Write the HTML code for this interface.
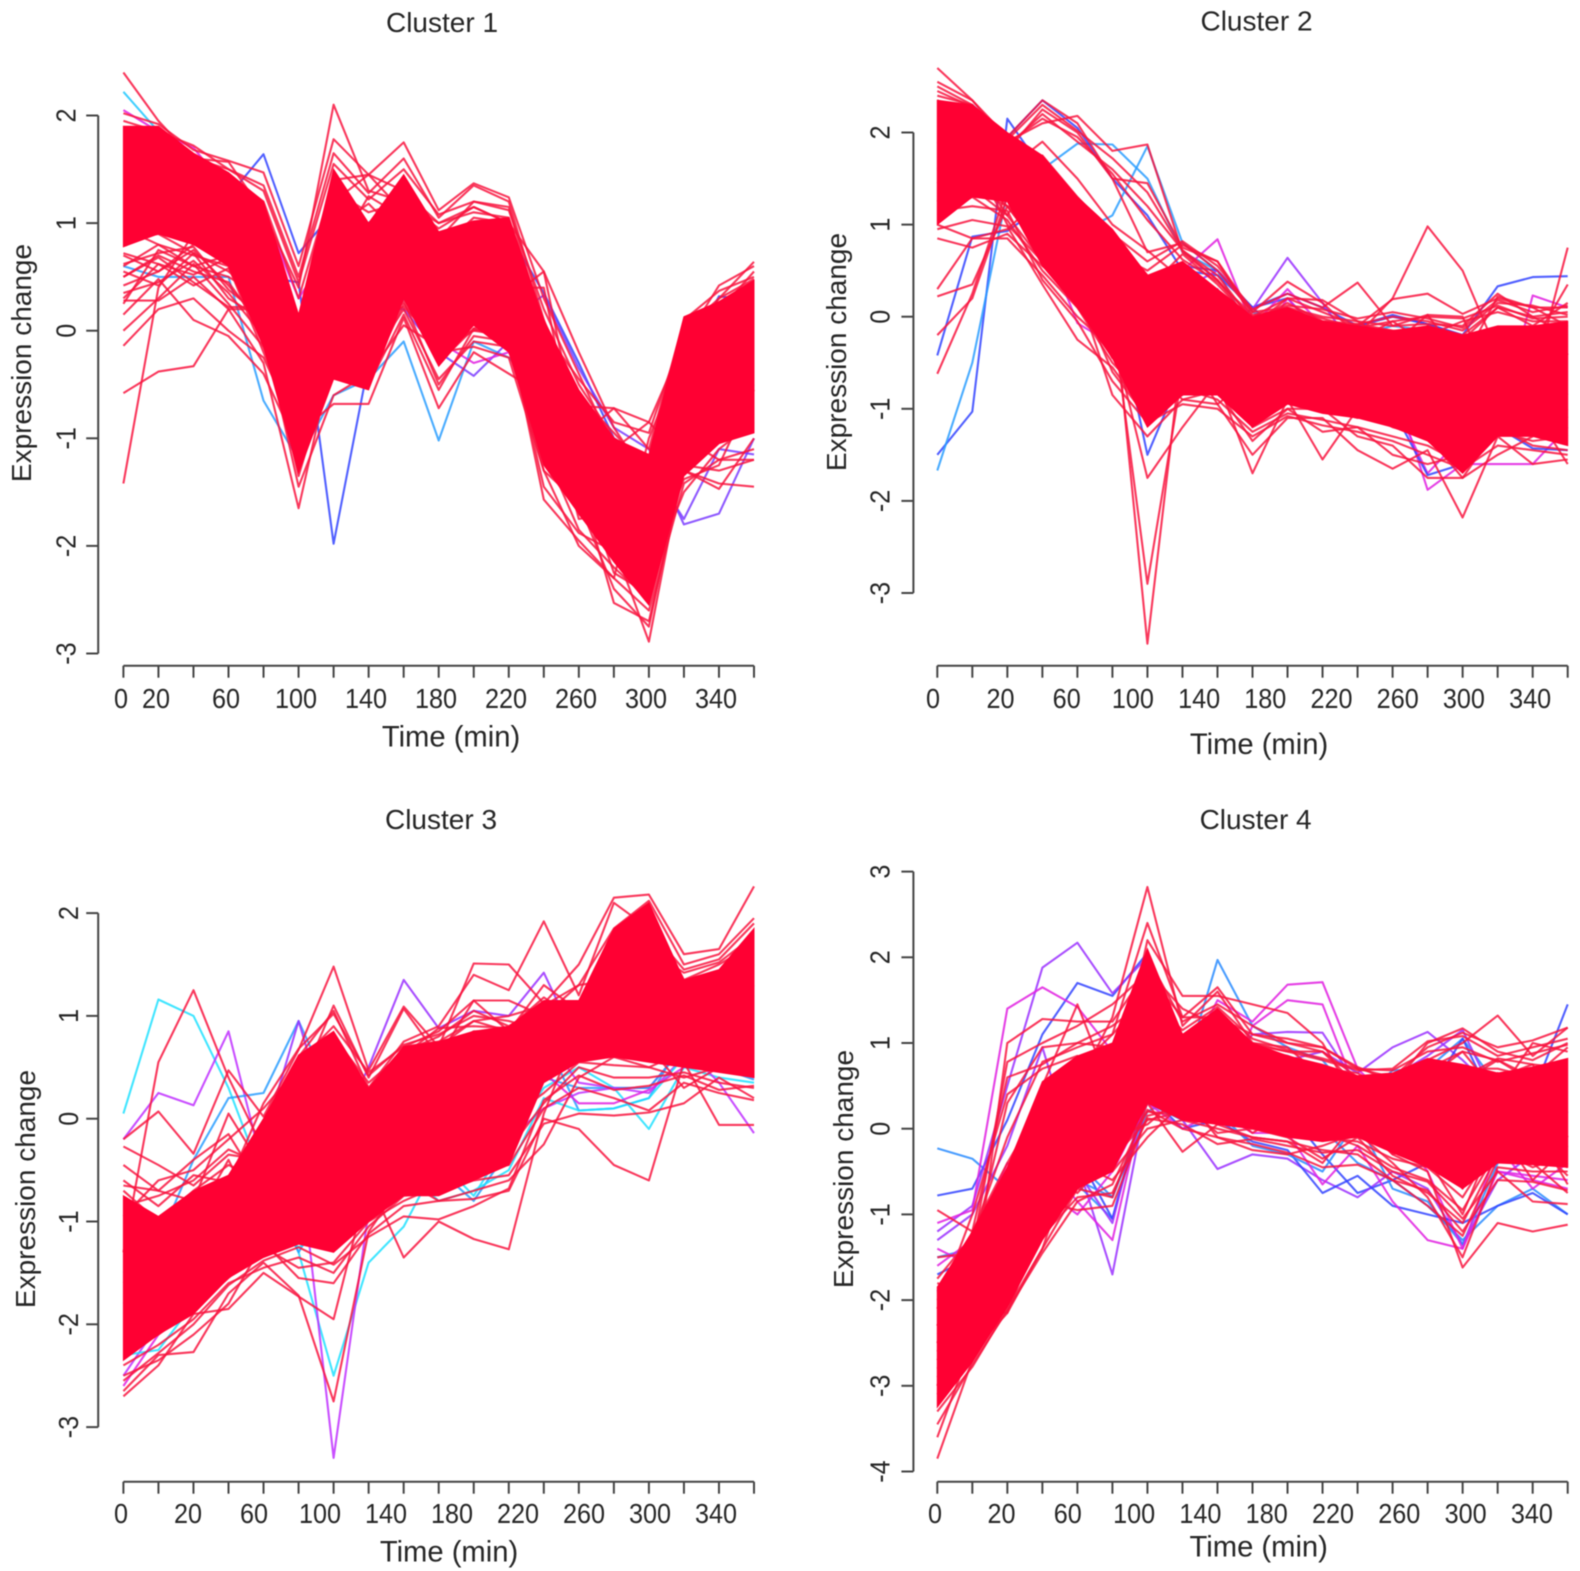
<!DOCTYPE html>
<html>
<head>
<meta charset="utf-8">
<title>Expression change clusters</title>
<style>
html,body{margin:0;padding:0;background:#fff;width:1580px;height:1571px;overflow:hidden}
svg{display:block;filter:blur(.45px)}
text{font-family:"Liberation Sans",Arial,sans-serif;fill:#262626}
</style>
</head>
<body>
<svg id="chart" xmlns="http://www.w3.org/2000/svg" width="1580" height="1571" viewBox="0 0 1580 1571"></svg>
<script>
const times=[0,20,40,60,80,100,120,140,160,180,200,220,240,260,280,300,320,340,360];
const xTickLabels=[0,20,60,100,140,180,220,260,300,340];

const c1YTicks=[2,1,0,-1,-2,-3];
const c1BandUpper=[1.9,1.9,1.65,1.47,1.2,0.15,1.5,1.0,1.45,0.92,1.02,1.05,0.1,-0.55,-1.0,-1.15,0.13,0.27,0.47];
const c1BandLower=[0.78,0.9,0.8,0.6,-0.15,-1.32,-0.45,-0.55,0.3,-0.33,0.05,-0.2,-1.25,-1.7,-2.15,-2.55,-1.35,-1.05,-0.95];
const c1AccentColors=['#20c8ff','#3344ff','#3344ff','#2a9dff','#7a3cff','#7a3cff','#e020e0'];
const c1AccentLines=[
[2.22,1.85,1.5,1.3,0.85,-0.1,0.6,0.4,0.5,0.3,0.2,0.2,-0.1,-0.8,-1.2,-1.4,-0.5,-0.2,0.0],
[1.2,1.25,1.2,1.25,1.64,0.72,1.1,1.0,1.3,0.8,0.9,0.9,0.35,-0.3,-1.0,-1.2,-0.3,0.32,0.28],
[1.0,0.9,0.9,0.8,0.5,0.45,-1.98,-0.3,0.3,0.0,0.2,0.1,-0.6,-1.2,-1.6,-1.9,-1.0,-0.8,-0.5],
[0.6,0.5,0.5,0.5,-0.65,-1.2,-0.6,-0.45,-0.1,-1.02,-0.1,-0.25,-0.6,-1.3,-1.8,-2.0,-1.2,-0.9,-0.7],
[1.1,1.1,1.0,0.9,0.6,-0.2,0.2,0.3,0.5,0.1,0.2,0.1,0.33,-0.35,-0.9,-1.1,-1.8,-1.7,-1.0],
[1.5,1.6,1.4,1.2,0.8,-0.3,0.1,0.2,0.2,-0.2,-0.42,-0.1,-0.1,-0.7,-1.0,-1.25,-1.75,-1.1,-1.15],
[2.05,1.85,1.7,1.3,1.1,0.3,0.8,0.6,0.6,-0.1,-0.3,-0.2,-0.7,-1.2,-1.2,-1.4,-0.8,-0.4,-0.2]
];
const c1RedLines=[
[2.4,1.95,1.6,1.57,1.1,0.4,2.1,1.3,1.2,1.0,1.15,1.0,0.55,-0.2,-0.9,-1.4,-0.2,0.3,0.64],
[2.02,1.92,1.68,1.58,1.47,0.6,1.78,1.45,1.75,1.12,1.37,1.24,0.3,-0.4,-1.1,-0.85,-0.1,0.42,0.6],
[1.95,1.85,1.72,1.5,1.35,0.5,1.65,1.28,1.6,1.05,1.35,1.2,0.1,-0.7,-0.72,-1.1,0.1,0.37,0.5],
[1.8,1.85,1.6,1.5,1.3,0.45,1.55,1.22,1.5,1.08,1.2,1.12,0.2,-0.5,-1.0,-1.2,0.0,0.3,0.48],
[1.7,1.75,1.55,1.45,1.2,0.3,1.4,1.45,1.3,1.0,1.1,1.05,0.05,-0.6,-0.95,-1.3,0.05,0.25,0.4],
[-1.42,0.4,0.9,1.0,0.7,-0.3,0.9,0.7,0.9,0.5,0.7,0.7,-0.3,-1.0,-1.5,-1.9,-0.8,-0.3,-0.1],
[-0.58,-0.38,-0.33,0.2,-0.3,-1.65,-0.2,0.1,0.5,0.1,0.4,0.2,-0.9,-1.57,-1.9,-2.4,-1.0,-0.5,-0.3],
[-0.14,0.2,0.3,0.0,-0.25,-0.95,-0.68,-0.68,0.12,-0.72,-0.2,-0.4,-0.6,-1.3,-2.0,-2.89,-1.2,-0.8,-0.6],
[0.0,0.3,0.62,0.25,-0.15,-0.9,-0.3,-0.5,0.15,-0.55,0.02,-0.1,-1.0,-1.4,-2.53,-2.7,-1.3,-1.42,-1.45],
[0.15,0.48,0.1,-0.05,-0.4,-1.1,-0.1,-0.3,0.2,-0.45,-0.1,-0.15,-1.3,-2.0,-2.3,-2.6,-1.42,-1.2,-1.1],
[0.28,0.28,0.5,0.2,0.2,-0.6,0.0,0.2,0.35,-0.3,0.02,0.1,-1.1,-1.85,-2.2,-2.5,-1.3,-1.47,-1.0],
[0.5,0.68,0.45,0.22,0.22,-0.7,-0.05,0.3,0.4,-0.2,-0.15,-0.25,-1.3,-1.6,-2.4,-2.75,-1.2,-1.0,-0.9],
[0.42,0.55,0.75,0.42,0.05,-0.9,0.2,0.4,0.6,0.0,0.2,0.3,0.55,-1.0,-1.5,-2.0,-0.5,-0.3,-0.2],
[0.6,0.8,0.7,0.6,-0.2,-1.0,0.3,0.5,0.5,0.1,0.3,0.4,0.4,-1.2,-1.3,-1.9,-0.4,-0.1,0.1],
[0.7,0.55,0.8,0.75,0.35,-0.6,1.2,1.45,1.1,0.85,1.2,1.15,0.0,-1.5,-1.6,-2.1,-1.0,-1.2,-1.2],
[0.85,0.9,0.72,0.55,0.3,-0.4,1.3,1.1,1.2,0.95,1.15,1.0,-0.2,-1.7,-2.1,-2.3,-1.5,-1.1,-0.85],
[0.5,0.7,0.55,0.45,0.0,-1.45,-0.6,-0.4,0.05,-0.15,0.1,0.0,-1.57,-1.95,-2.3,-1.0,-0.2,0.2,0.35],
[0.35,0.45,0.65,0.35,-0.05,-1.2,-0.4,-0.2,0.28,-0.5,-0.05,-0.1,-0.4,-1.0,-0.72,-0.85,-1.2,-0.6,-0.4],
[0.95,0.8,0.6,0.7,0.4,-0.2,0.7,1.25,1.05,0.75,1.05,1.0,-0.3,-1.1,-1.8,-2.0,-0.2,0.1,0.3],
[0.25,0.75,0.6,0.5,0.3,-0.5,0.6,0.9,1.0,0.65,0.95,0.9,0.1,-0.9,-1.3,-1.7,-0.1,0.05,0.2],
[0.62,0.72,0.78,0.38,0.12,-0.75,0.1,0.15,0.22,-0.1,0.0,0.05,-0.8,-1.3,-2.25,-2.45,-1.25,-1.3,-1.2],
[0.3,0.62,0.42,0.58,-0.05,-0.8,0.55,0.7,0.7,0.35,0.5,0.5,-0.5,-1.75,-1.7,-2.2,-1.38,-1.25,-0.55],
[0.55,0.42,0.72,0.3,0.1,-1.35,-0.25,-0.45,0.25,-0.2,0.0,-0.05,-1.45,-1.88,-2.05,-2.35,-0.05,-0.15,-0.35],
[0.72,0.62,0.52,0.68,0.25,-0.55,0.95,1.18,0.85,0.8,0.92,0.98,0.0,-0.45,-0.85,-0.95,0.0,0.18,0.55]
];

const c2YTicks=[2,1,0,-1,-2,-3];
const c2BandUpper=[2.35,2.3,2.0,1.75,1.3,0.95,0.45,0.6,0.3,0.0,0.1,-0.05,-0.1,-0.15,-0.1,-0.2,-0.1,-0.1,-0.05];
const c2BandLower=[1.0,1.3,1.25,0.55,0.1,-0.45,-1.2,-0.85,-0.85,-1.2,-0.95,-1.05,-1.1,-1.2,-1.35,-1.7,-1.3,-1.3,-1.4];
const c2AccentColors=['#3344ff','#2a9dff','#3344ff','#3344ff','#2a9dff','#3344ff','#3344ff','#9a30ff','#e020e0','#e020e0','#3344ff'];
const c2AccentLines=[
[-1.5,-1.03,2.15,1.6,1.2,0.8,0.3,-0.2,-0.5,-0.7,-0.4,-0.6,-0.7,-0.8,-1.0,-1.2,-0.8,-0.9,-1.0],
[-1.67,-0.5,1.35,1.6,1.88,1.87,1.5,0.7,0.5,-0.2,-0.3,-0.5,-0.6,-0.7,-1.0,-1.1,-0.9,-0.8,-0.7],
[-0.42,0.87,0.93,1.2,1.0,0.7,0.3,-0.3,-0.55,-0.9,-0.6,-0.7,-0.9,-1.0,-1.2,-1.4,-1.0,-1.1,-1.2],
[2.3,2.3,1.95,2.35,2.05,1.5,1.1,0.5,0.45,0.1,-0.25,-0.45,-0.6,-0.5,-0.7,-0.9,-0.8,-0.7,-0.6],
[1.7,1.6,1.5,1.1,0.9,1.1,1.85,0.8,0.5,0.05,-0.1,-0.3,-0.2,-0.1,-0.15,-0.2,-0.5,-0.6,-0.6],
[1.5,1.5,1.4,1.3,1.0,0.5,0.1,0.55,0.5,0.1,0.25,0.1,-0.1,0.0,-0.08,-0.2,-0.5,-0.6,-0.7],
[1.8,1.8,1.6,1.3,1.0,0.6,0.0,-0.6,-0.3,0.1,0.2,-0.2,-0.1,0.02,-0.08,-0.2,0.33,0.43,0.44],
[1.6,1.9,1.6,1.2,0.9,0.5,0.2,0.3,0.5,0.08,0.64,0.15,-0.4,-0.6,-0.8,-1.2,-1.0,-0.8,-0.4],
[1.9,1.7,1.5,0.9,-0.07,-0.3,-0.47,0.5,0.84,-0.1,0.3,-0.1,-0.4,-0.7,-1.88,-1.6,-1.6,-1.6,-1.2],
[1.5,1.6,1.4,1.0,0.7,0.3,-0.4,0.2,0.3,-0.4,0.2,-0.2,-0.5,-0.9,-1.7,-1.3,-1.2,0.23,0.1],
[1.9,1.7,1.6,1.2,0.8,0.3,-1.5,-0.6,-0.4,-0.8,-0.6,-0.7,-0.8,-1.0,-1.72,-1.6,-1.2,-1.43,-1.45]
];
const c2RedLines=[
[2.7,2.35,1.9,1.6,1.2,0.9,0.6,0.82,0.55,0.08,0.25,0.1,0.37,-0.1,0.02,0.0,-0.9,-0.7,0.75],
[2.55,2.35,1.95,2.35,2.1,1.5,0.7,0.8,0.5,0.05,0.38,0.15,-0.2,0.2,0.98,0.5,-0.4,-0.3,0.35],
[2.5,2.3,1.9,2.1,2.18,1.8,1.87,0.7,0.4,-0.1,0.2,0.05,-0.1,0.19,0.25,0.03,0.2,0.1,0.1],
[2.4,2.3,1.8,2.25,2.0,1.5,1.45,0.75,0.6,0.05,0.1,0.0,-0.05,-0.3,0.02,-0.5,0.22,0.1,-0.1],
[2.35,2.2,1.85,2.2,1.9,1.6,1.2,0.72,0.45,-0.05,0.05,-0.05,-0.1,-0.5,-0.1,-0.2,0.1,-0.1,0.15],
[-0.62,0.25,1.4,1.2,0.9,0.4,0.0,-0.5,-0.4,-0.7,-0.5,-0.6,-0.8,-0.9,-0.6,-0.9,-0.5,-0.7,-0.6],
[0.3,0.85,0.95,1.3,0.8,0.3,-0.2,-0.4,-0.5,-0.6,-0.7,-0.8,-0.6,-0.8,-1.0,-1.2,-0.9,-0.6,-0.5],
[0.22,0.35,1.2,1.1,0.6,0.1,-0.3,-0.7,-0.6,-0.8,-0.6,-0.9,-1.0,-1.1,-0.9,-1.1,-0.6,-0.8,-0.9],
[-0.2,0.2,1.3,0.9,0.4,-0.1,-0.5,-0.9,-0.8,-1.1,-0.9,-0.7,-0.8,-0.9,-1.3,-1.4,-1.0,-0.9,-1.1],
[0.85,0.75,0.9,0.55,0.25,-0.3,-0.85,-0.2,-0.3,-0.9,-0.7,-1.0,-1.1,-1.0,-0.7,-0.6,-0.8,-1.2,-1.3],
[1.0,0.85,0.85,0.45,0.0,-0.35,-0.75,0.0,-0.6,-1.1,-0.8,-0.6,-0.7,-0.8,-1.2,-1.0,-0.7,-1.0,-1.6],
[1.9,1.8,1.5,1.2,0.9,0.3,-3.55,-0.3,-0.4,-0.9,-0.7,-0.9,-0.8,-0.9,-1.1,-1.3,-0.9,-0.9,-1.0],
[1.7,1.7,1.4,1.0,0.6,0.0,-2.9,-0.6,-0.6,-1.0,-0.8,-0.8,-0.9,-1.0,-1.2,-1.4,-1.0,-0.8,-1.1],
[1.6,1.6,1.3,0.9,0.5,-0.2,-1.75,-1.2,-0.7,-1.7,-0.9,-1.55,-1.0,-1.2,-1.3,-1.75,-1.2,-1.1,-1.3],
[1.8,1.7,1.4,0.8,0.3,-0.85,-1.3,-0.9,-0.95,-1.5,-1.1,-1.1,-1.45,-1.65,-1.45,-2.18,-1.3,-1.6,-1.55],
[1.5,1.55,1.2,0.7,0.3,-0.6,-1.1,-0.5,-0.8,-1.35,-1.0,-1.0,-1.3,-1.4,-1.75,-1.75,-1.5,-1.3,-1.0],
[1.6,1.4,1.1,0.6,0.1,-0.5,-0.9,0.3,-0.5,-1.2,-1.0,-1.25,-1.2,-1.5,-1.6,-1.5,-1.2,-1.4,-1.45],
[2.1,2.0,1.7,1.4,1.05,0.7,0.5,0.78,0.6,0.0,0.2,0.18,-0.05,-0.1,-0.08,-0.1,0.25,0.0,0.05],
[2.2,2.1,1.75,1.5,1.0,0.6,0.3,0.68,0.35,-0.05,0.15,-0.05,-0.08,0.0,-0.05,-0.15,0.15,0.12,0.02],
[1.9,2.05,1.6,1.9,1.5,1.0,0.72,0.4,0.2,-0.1,0.02,-0.15,-0.08,-0.15,-0.2,-0.05,0.05,-0.05,-0.05],
[1.25,1.65,1.1,1.75,1.3,0.9,0.45,0.35,0.25,-0.08,0.0,-0.1,-0.25,-0.05,-0.3,-0.25,0.1,0.0,-0.2],
[2.2,2.15,1.7,0.95,0.5,-0.2,-0.6,-0.1,0.1,-0.5,-0.2,-0.5,-0.6,-0.5,-0.5,-0.4,-0.2,-0.3,-0.1],
[1.1,1.3,1.05,0.5,0.1,-0.4,-1.0,-0.85,-0.5,-0.3,-0.55,-0.4,-0.55,-0.8,-0.45,-0.8,-1.05,-0.5,-0.7],
[1.35,1.4,1.2,0.7,0.4,-0.25,-0.7,-0.35,-0.95,-0.65,-0.3,-0.7,-0.4,-0.55,-1.0,-0.55,-0.75,-1.0,-0.4],
[1.45,1.75,1.0,0.6,0.25,-0.45,-0.4,-0.6,-0.3,-0.8,-0.5,-0.35,-0.8,-0.35,-0.75,-1.1,-0.35,-0.55,-0.85],
[2.45,2.28,1.92,2.3,2.02,1.72,1.35,0.72,0.4,-0.02,0.12,0.08,-0.02,0.05,-0.02,-0.12,0.18,0.05,0.12],
[2.3,2.18,1.88,2.15,1.95,1.55,1.05,0.62,0.38,0.02,0.08,-0.02,-0.12,-0.05,0.0,-0.02,0.12,-0.02,0.0],
[0.95,1.05,0.98,0.35,-0.25,-0.55,-1.08,-0.78,-0.9,-1.25,-1.05,-1.12,-1.2,-1.3,-1.4,-1.6,-1.25,-1.35,-1.3],
[1.15,1.2,1.15,0.4,-0.05,-0.7,-1.15,-0.95,-1.0,-1.3,-1.08,-1.18,-1.25,-1.35,-1.5,-1.65,-1.4,-1.45,-1.5]
];

const c3YTicks=[2,1,0,-1,-2,-3];
const c3BandUpper=[-0.75,-0.95,-0.7,-0.55,0.0,0.62,0.85,0.3,0.7,0.75,0.85,0.9,1.15,1.15,1.85,2.1,1.35,1.45,1.85];
const c3BandLower=[-2.35,-2.1,-1.9,-1.55,-1.35,-1.22,-1.3,-1.0,-0.75,-0.75,-0.6,-0.45,0.35,0.55,0.6,0.55,0.5,0.45,0.4];
const c3AccentColors=['#20e0ff','#c030ff','#2a9dff','#9a30ff','#2a9dff','#c030ff','#20e0ff','#e020e0'];
const c3AccentLines=[
[0.05,1.16,1.0,0.3,-0.6,-1.3,-2.5,-1.4,-1.05,-0.4,-0.75,-0.2,0.3,0.5,0.3,-0.1,0.5,0.4,0.35],
[-0.2,0.25,0.13,0.85,-0.5,-0.3,-3.3,-0.9,-0.2,0.2,0.3,0.5,0.8,0.35,0.3,0.3,0.7,0.35,-0.14],
[-1.5,-1.2,-0.4,0.2,0.25,0.95,0.2,-0.2,0.3,0.2,0.4,0.5,0.8,0.08,0.1,0.2,0.8,0.5,0.38],
[-1.8,-1.5,-1.2,-0.8,-0.2,0.95,-0.2,0.5,1.35,0.88,1.05,1.0,1.42,0.7,0.8,0.9,0.9,0.8,0.9],
[-1.9,-1.7,-1.5,-1.0,-0.5,-1.3,-0.7,-0.6,-0.2,-0.5,-0.8,-0.3,0.4,0.3,0.3,0.3,0.7,0.8,0.7],
[-2.5,-2.0,-1.6,-1.2,-0.7,-0.3,-0.8,-0.5,-0.3,-0.6,-0.58,-0.2,0.1,0.25,0.3,0.25,0.6,0.55,0.6],
[-2.3,-2.25,-1.8,-1.4,-1.0,-1.25,-1.1,-0.8,-0.5,-0.8,-0.7,-0.5,0.2,0.08,0.1,0.2,0.6,0.7,0.8],
[-2.6,-2.1,-1.7,-1.3,-0.9,-0.5,-1.0,-0.6,-0.4,-0.3,-0.4,-0.2,0.45,0.15,0.15,0.28,0.5,0.6,0.4]
];
const c3RedLines=[
[-1.3,0.55,1.25,0.4,-0.3,0.1,0.4,-0.2,0.3,0.4,0.5,0.6,0.9,1.0,1.4,1.6,1.2,1.2,1.5],
[-0.2,0.07,-0.34,0.47,0.02,0.67,1.48,0.47,1.09,0.7,1.51,1.5,1.12,1.5,2.15,2.18,1.6,1.65,2.26],
[-0.27,-0.45,-0.65,-0.35,-0.4,0.3,1.1,0.4,1.07,0.6,1.15,1.15,1.0,1.3,1.85,2.12,1.5,1.6,1.95],
[-0.45,-0.7,-0.8,0.05,-0.5,0.6,1.05,0.3,0.75,0.9,1.4,1.25,1.92,1.2,2.1,1.85,1.45,1.55,1.9],
[-0.65,-0.7,-0.4,-0.15,-0.7,0.55,0.9,0.45,0.7,0.85,1.15,0.85,1.3,1.05,1.7,2.0,1.35,1.5,1.7],
[-0.7,-1.0,-0.7,-0.45,-0.6,0.35,0.8,0.35,0.65,0.8,1.05,0.9,1.1,1.0,1.6,1.9,1.2,1.3,1.6],
[-0.85,-0.75,-0.6,-0.3,-0.45,0.4,0.75,0.2,0.6,0.7,0.95,0.85,1.05,1.1,1.45,1.7,1.3,1.4,1.6],
[-2.7,-2.4,-1.9,-1.85,-1.5,-1.73,-1.95,-0.6,-1.35,-1.0,-1.17,-1.27,0.05,0.9,0.8,0.8,0.6,0.6,0.6],
[-2.65,-2.3,-2.27,-1.7,-1.4,-1.72,-2.75,-1.1,-0.6,-0.8,-0.7,-0.6,-0.25,0.4,0.6,0.7,0.3,0.5,0.7],
[-2.5,-2.35,-2.1,-1.8,-1.2,-1.55,-1.6,-1.12,-0.85,-0.8,-0.78,-0.7,0.0,-0.1,-0.45,-0.6,0.55,-0.06,-0.06],
[-2.4,-2.2,-1.95,-1.6,-1.45,-1.35,-1.5,-1.05,-0.75,-0.72,-0.6,-0.55,-0.05,0.05,0.03,0.06,0.15,0.4,0.2],
[-2.3,-2.1,-1.85,-1.55,-1.25,-1.45,-1.4,-1.0,-0.8,-0.65,-0.5,-0.45,0.1,0.3,0.2,0.08,0.35,0.25,0.18],
[-1.0,-1.2,-1.0,-0.4,-1.1,-0.8,-1.2,-0.7,-0.7,-0.55,-0.45,-0.3,0.15,0.5,0.4,0.4,0.45,0.35,0.3],
[-1.1,-1.0,-0.8,-0.9,-0.9,-0.95,-1.0,-0.75,-0.5,-0.4,-0.2,0.0,0.25,0.55,0.52,0.5,0.4,0.5,0.45],
[-1.6,-1.3,-1.2,-0.9,-0.6,-0.8,-1.0,-0.6,0.2,0.65,0.85,0.85,1.0,0.9,0.6,0.5,0.65,0.75,0.6],
[-1.4,-1.2,-1.1,-1.0,-0.5,0.1,0.3,0.0,0.7,0.75,0.95,1.0,1.1,1.3,1.35,1.3,0.9,0.95,1.3],
[-0.6,-0.85,-0.55,-0.62,0.15,0.68,1.02,0.42,0.72,0.82,1.0,0.95,0.85,1.08,1.55,1.65,1.42,1.52,1.78],
[-2.55,-2.28,-2.0,-1.62,-1.38,-1.25,-1.42,-1.15,-0.95,-0.98,-0.85,-0.68,0.18,0.42,0.28,0.32,0.42,0.28,0.32],
[-0.95,-0.6,-0.5,-0.2,0.1,0.5,0.7,0.28,0.62,0.88,0.9,0.88,1.18,0.95,1.25,1.4,1.3,1.38,1.45]
];

const c4YTicks=[3,2,1,0,-1,-2,-3,-4];
const c4BandUpper=[-1.85,-1.2,-0.45,0.55,0.85,1.0,2.1,1.1,1.4,1.0,0.85,0.75,0.62,0.65,0.82,0.75,0.65,0.72,0.82];
const c4BandLower=[-3.25,-2.72,-2.08,-1.3,-0.7,-0.5,0.3,0.1,0.05,0.0,-0.1,-0.15,-0.1,-0.28,-0.45,-0.7,-0.4,-0.42,-0.45];
const c4AccentColors=['#2a8cff','#3344ff','#9a30ff','#2a8cff','#e020e0','#9a30ff','#3344ff','#2a8cff','#e020e0','#e020e0','#9a30ff','#3344ff'];
const c4AccentLines=[
[-0.23,-0.35,-0.7,-0.5,-0.4,-0.8,0.2,0.4,0.5,0.2,0.1,0.0,-0.4,-0.6,-0.9,-1.3,-0.9,-0.7,-1.0],
[-0.78,-0.7,0.1,1.1,1.7,1.55,2.05,1.0,0.4,0.3,0.2,-0.3,-0.75,-0.6,-0.4,-0.5,-0.2,0.4,1.45],
[-1.2,-0.9,0.5,1.88,2.17,1.58,2.0,0.9,0.7,0.6,0.8,0.9,0.65,0.95,1.13,0.8,0.4,0.2,0.3],
[-1.5,-1.4,-0.5,0.2,-0.65,-1.05,0.5,0.6,1.97,1.2,0.95,0.8,0.3,0.68,0.7,1.05,0.5,0.1,-0.1],
[-1.1,-0.95,1.4,1.65,1.42,0.9,1.6,0.7,1.5,1.25,1.68,1.71,0.7,0.3,0.2,0.1,-0.5,-0.6,-0.7],
[-1.3,-1.0,-0.2,0.95,-0.4,-1.7,0.4,0.1,-0.47,-0.3,-0.35,-0.6,-0.8,-0.5,-0.7,-1.35,-0.6,-0.3,-0.1],
[-1.7,-1.5,-1.2,-0.9,-0.3,-1.05,0.4,0.0,0.1,-0.15,-0.25,-0.75,-0.55,-0.9,-1.0,-1.1,-0.9,-0.75,-1.0],
[-2.0,-1.8,-1.0,-0.5,-0.6,-0.8,0.3,0.1,0.2,-0.2,-0.3,-0.5,0.1,-0.7,-0.85,-1.35,-0.4,-0.2,0.2],
[-1.4,-1.6,-1.0,-0.35,-0.85,-1.3,0.5,0.2,0.3,1.2,1.5,1.45,0.4,0.1,-0.5,-1.4,-0.5,-0.55,-0.6],
[-1.6,-1.3,-0.4,-0.7,-1.0,-0.5,0.3,0.0,0.2,-0.05,-0.05,-0.65,-0.2,-0.85,-1.3,-1.4,-0.2,-0.7,-0.4],
[-1.9,-1.3,-0.6,0.3,-0.5,-1.1,0.55,0.5,0.6,1.1,1.13,1.12,0.5,0.6,0.85,1.15,0.3,0.1,-0.1],
[-2.1,-1.8,-1.5,-0.3,-0.5,-0.2,0.7,0.3,0.45,0.9,0.85,0.7,0.4,0.3,0.4,1.05,0.2,0.0,0.2]
];
const c4RedLines=[
[-3.85,-2.7,-2.0,-0.2,0.5,1.3,2.82,1.2,1.6,1.0,0.9,0.9,0.5,0.6,0.7,0.9,0.4,1.0,0.9],
[-3.6,-2.5,-1.8,0.1,0.7,1.1,2.4,1.3,1.65,1.1,1.0,0.95,0.7,0.6,0.8,1.0,1.32,0.85,1.18],
[-3.3,-2.78,-2.1,-1.4,-0.2,0.3,2.2,1.55,1.55,1.45,1.35,1.0,0.3,0.5,1.0,1.17,0.9,0.8,1.0],
[-3.1,-2.6,-2.15,-1.1,-0.5,0.9,2.0,1.25,1.45,1.2,1.0,0.9,0.6,0.6,0.95,1.12,0.95,1.03,1.18],
[-2.9,-2.4,-1.0,0.5,1.45,0.4,1.8,1.3,1.3,1.1,1.05,0.95,0.72,0.55,0.6,0.9,0.8,0.6,0.95],
[-2.7,-2.0,1.0,1.28,1.25,1.25,1.85,1.4,1.2,0.95,0.85,0.7,0.65,0.4,0.5,0.7,0.7,0.6,0.8],
[-2.5,-1.4,0.78,1.0,1.2,1.45,1.82,1.0,1.1,1.0,0.95,0.6,0.4,0.3,0.55,0.6,0.82,0.75,0.7],
[-2.3,-1.2,0.6,0.75,1.0,1.2,1.5,1.1,1.0,0.85,0.8,0.5,0.5,0.5,0.7,0.55,0.8,0.55,0.65],
[-2.1,-1.0,0.4,0.7,0.85,0.7,1.3,0.9,0.9,0.75,0.7,0.55,0.6,0.45,0.75,0.6,0.55,0.7,0.6],
[-0.95,-1.2,-0.4,0.3,0.6,0.85,1.4,0.85,0.7,0.6,0.5,0.4,0.3,0.2,0.5,0.5,0.5,0.6,0.55],
[-1.9,-2.1,-2.15,-1.4,-0.7,-0.8,0.3,-0.27,0.05,-0.1,-0.15,-0.4,0.1,-0.3,-0.5,-1.62,-1.1,-1.2,-1.12],
[-2.0,-2.2,-2.05,-1.2,-0.5,-0.1,0.05,0.4,-0.1,-0.25,-0.3,-0.2,-0.05,-0.4,-0.8,-1.5,-0.45,-0.5,-0.5],
[-1.8,-2.0,-1.9,-1.0,-0.4,-0.6,-0.1,0.3,-0.05,0.0,-0.1,-0.35,-0.1,-0.55,-0.75,-1.1,-0.3,-0.4,-0.75],
[-2.2,-2.3,-1.7,-0.8,-0.3,-0.5,0.0,0.1,0.0,-0.1,-0.15,-0.25,-0.3,-0.6,-0.9,-1.25,-0.35,-0.3,-0.45],
[-2.4,-2.1,-1.6,-0.9,-0.45,-0.35,0.1,0.2,0.05,0.05,-0.05,-0.05,-0.2,-0.45,-0.6,-0.95,-0.25,-0.45,-0.3],
[-2.6,-1.9,-1.4,-0.7,-0.2,-0.4,0.2,0.15,0.1,0.1,0.0,-0.1,-0.15,-0.35,-0.45,-0.8,-0.15,-0.25,-0.35],
[-2.8,-2.3,-1.3,-0.6,-0.1,0.0,0.6,0.55,0.8,0.7,0.6,0.3,0.2,-0.2,-0.3,-0.65,0.65,-0.05,-0.25],
[-3.0,-1.7,-1.1,-0.5,0.0,0.1,0.7,0.5,0.9,0.65,0.75,0.35,0.1,-0.3,-0.15,-0.5,0.6,0.75,-0.1],
[-2.0,-1.5,-0.9,-0.55,-0.75,-0.3,0.5,0.35,0.25,-0.05,0.2,0.15,0.0,-0.1,0.0,-0.4,-0.2,-0.1,-0.05],
[-1.85,-1.7,-1.2,-0.85,-0.95,-0.9,0.15,0.25,0.4,0.3,0.3,0.2,-0.05,0.0,-0.35,-1.0,0.0,-0.6,-0.2],
[-2.3,-1.6,-0.75,0.15,0.35,-0.05,0.9,0.45,0.3,0.45,0.35,0.1,0.25,0.05,-0.2,-0.7,0.1,-0.15,-0.55],
[-2.5,-1.85,-1.05,-0.2,0.2,0.25,1.0,0.3,0.5,0.2,0.45,0.05,0.15,0.1,-0.05,-0.3,0.25,0.05,-0.65],
[-1.5,-1.45,0.3,0.95,1.0,0.95,1.3,0.98,1.35,0.98,0.9,0.8,0.68,0.7,1.02,1.08,0.85,0.95,1.05],
[-1.75,-1.25,-0.1,0.78,0.95,1.1,1.55,1.15,1.42,1.05,0.92,0.82,0.7,0.68,0.9,0.95,0.78,0.88,0.98],
[-3.45,-2.75,-2.12,-1.45,-0.85,-0.65,0.22,0.0,-0.1,-0.18,-0.28,-0.45,-0.42,-0.6,-0.72,-1.2,-0.6,-0.62,-0.72],
[-2.6,-2.62,-2.0,-1.25,-0.8,-0.75,0.12,0.05,-0.18,-0.12,-0.2,-0.28,-0.25,-0.5,-0.62,-1.05,-0.5,-0.85,-0.88]
];

const panels=[
{name:'cluster-1',title:'Cluster 1',titleX:442,titleY:22,x0:123.4,x1:754,y0:330.7,ppu:107.6,axisX:98.2,axisY:665.7,yTicks:c1YTicks,upper:c1BandUpper,lower:c1BandLower,accent:c1AccentLines,accentColors:c1AccentColors,red:c1RedLines,zeroX:121,firstX:156,step:70,labelY:698,timeX:451,timeY:736,yNumX:65.5,yLabelX:21,yLabelY:363},
{name:'cluster-2',title:'Cluster 2',titleX:1256.5,titleY:20.5,x0:937.3,x1:1567.7,y0:316.7,ppu:92.1,axisX:913.4,axisY:665.7,yTicks:c2YTicks,upper:c2BandUpper,lower:c2BandLower,accent:c2AccentLines,accentColors:c2AccentColors,red:c2RedLines,zeroX:933,firstX:1000.5,step:66.2,labelY:698,timeX:1259,timeY:743.5,yNumX:879.6,yLabelX:836,yLabelY:352},
{name:'cluster-3',title:'Cluster 3',titleX:441,titleY:819,x0:123.4,x1:754,y0:1118.7,ppu:102.8,axisX:98.2,axisY:1481.7,yTicks:c3YTicks,upper:c3BandUpper,lower:c3BandLower,accent:c3AccentLines,accentColors:c3AccentColors,red:c3RedLines,zeroX:121,firstX:188,step:66,labelY:1513,timeX:449,timeY:1551,yNumX:68,yLabelX:25,yLabelY:1189},
{name:'cluster-4',title:'Cluster 4',titleX:1255.6,titleY:819,x0:937.3,x1:1567.7,y0:1128.7,ppu:85.7,axisX:913.4,axisY:1481.7,yTicks:c4YTicks,upper:c4BandUpper,lower:c4BandLower,accent:c4AccentLines,accentColors:c4AccentColors,red:c4RedLines,zeroX:935,firstX:1001.5,step:66.3,labelY:1513,timeX:1258.7,timeY:1546,yNumX:879.6,yLabelX:843,yLabelY:1169}
];

const NS='http://www.w3.org/2000/svg';
const root=document.getElementById('chart');
function mk(tag,attrs,parent){
  const el=document.createElementNS(NS,tag);
  for(const k in attrs){el.setAttribute(k,attrs[k]);}
  parent.appendChild(el);
  return el;
}
function txt(str,x,y,size,rot,sx,parent){
  const el=mk('text',{'text-anchor':'middle',dy:'.36em','font-size':size,transform:'translate('+x+','+y+') rotate('+rot+') scale('+sx+',1)'},parent);
  el.textContent=str;
  return el;
}
panels.forEach(function(p){
  const xScale=function(t){return p.x0+(t/360)*(p.x1-p.x0);};
  const yScale=function(v){return p.y0-v*p.ppu;};
  const pts=function(vals){return vals.map(function(v,i){return xScale(times[i]).toFixed(1)+','+yScale(v).toFixed(1);}).join(' ');};

  const g=mk('g',{},root);
  
  

  p.accent.forEach(function(vals,i){
    const line=mk('polyline',{points:pts(vals),fill:'none',stroke:p.accentColors[i],'stroke-width':2.1,'stroke-opacity':.85,'stroke-linejoin':'round'},g);
    
    
  });
  p.red.forEach(function(vals){
    const line=mk('polyline',{points:pts(vals),fill:'none',stroke:'#f8153f','stroke-width':2.1,'stroke-opacity':.85,'stroke-linejoin':'round'},g);
    
    
  });
  const bandPts=pts(p.upper)+' '+p.lower.map(function(v,i){return xScale(times[i]).toFixed(1)+','+yScale(v).toFixed(1);}).reverse().join(' ');
  const band=mk('polygon',{points:bandPts,fill:'#ff0033',stroke:'#ff0033','stroke-width':1},g);
  
  

  const title=txt(p.title,p.titleX,p.titleY,28,0,1,g);
  
  

  const xAxis=mk('line',{x1:xScale(0),x2:xScale(360),y1:p.axisY,y2:p.axisY,stroke:'#444','stroke-width':2},g);
  
  
  times.forEach(function(t){
    const tick=mk('line',{x1:xScale(t),x2:xScale(t),y1:p.axisY,y2:p.axisY+12,stroke:'#444','stroke-width':2},g);
    
    
  });
  xTickLabels.forEach(function(v,k){
    const x=k===0?p.zeroX:p.firstX+(k-1)*p.step;
    const lab=txt(String(v),x,p.labelY,28,0,.9,g);
    
    
  });
  const xTitle=txt('Time (min)',p.timeX,p.timeY,29.2,0,1,g);
  
  

  const yMax=p.yTicks[0],yMin=p.yTicks[p.yTicks.length-1];
  const yAxis=mk('line',{x1:p.axisX,x2:p.axisX,y1:yScale(yMax),y2:yScale(yMin),stroke:'#444','stroke-width':2},g);
  
  
  p.yTicks.forEach(function(v){
    const tick=mk('line',{x1:p.axisX-12,x2:p.axisX,y1:yScale(v),y2:yScale(v),stroke:'#444','stroke-width':2},g);
    
    
    const lab=txt(String(v),p.yNumX,yScale(v),28,-90,.9,g);
    
    
  });
  const yTitle=txt('Expression change',p.yLabelX,p.yLabelY,28,-90,1,g);
  
  
});
</script>
</body>
</html>
